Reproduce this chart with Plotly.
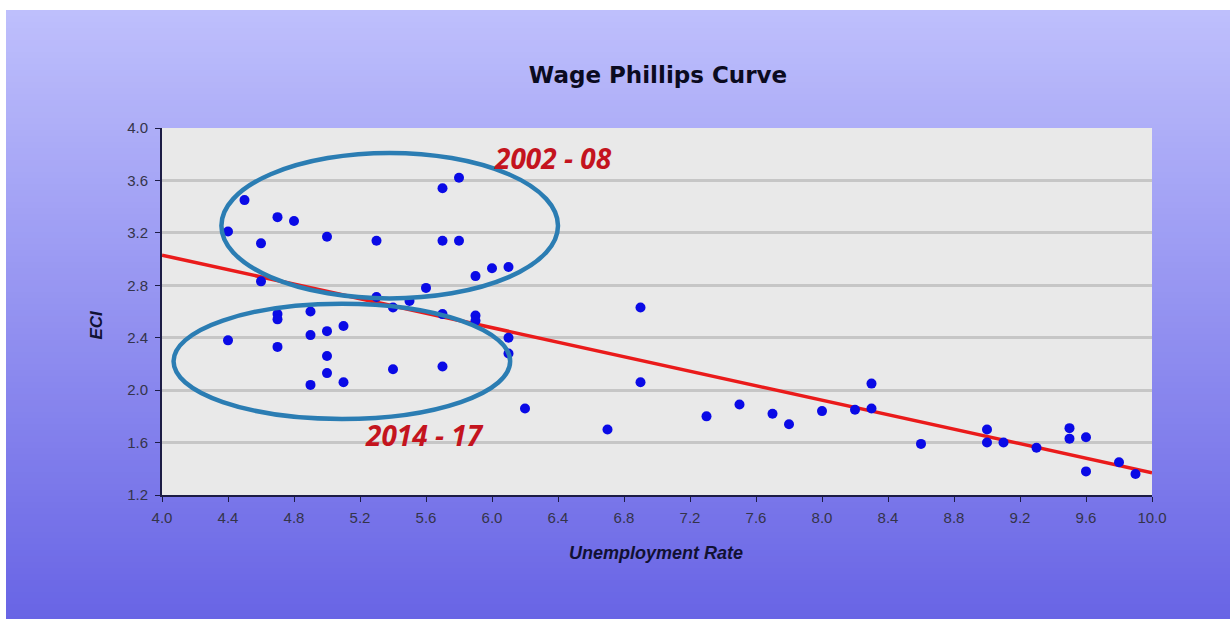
import plotly.graph_objects as go

# Unemployment rate (%) and ECI wage growth (%), one point per observation
unemployment = [4.4, 4.5, 4.6, 4.7, 4.8, 5.0, 5.3, 5.7, 5.8, 5.7, 5.8, 5.9, 6.0, 6.1,
                4.6, 5.6, 5.5, 5.3, 5.4, 4.7, 4.7, 4.9, 4.9, 5.0, 5.1, 4.4, 4.7, 5.0,
                5.0, 4.9, 5.1, 5.4, 5.7, 5.7, 5.9, 5.9, 6.1, 6.1, 6.2, 6.9, 6.9, 6.7,
                7.3, 7.5, 7.7, 7.8, 8.0, 8.2, 8.3, 8.3, 8.6, 9.0, 9.0, 9.1, 9.3, 9.5,
                9.5, 9.6, 9.6, 9.8, 9.9]
eci = [3.21, 3.45, 3.12, 3.32, 3.29, 3.17, 3.14, 3.54, 3.62, 3.14, 3.14, 2.87, 2.93, 2.94,
       2.83, 2.78, 2.68, 2.71, 2.63, 2.58, 2.54, 2.60, 2.42, 2.45, 2.49, 2.38, 2.33, 2.26,
       2.13, 2.04, 2.06, 2.16, 2.18, 2.58, 2.57, 2.53, 2.40, 2.28, 1.86, 2.63, 2.06, 1.70,
       1.80, 1.89, 1.82, 1.74, 1.84, 1.85, 2.05, 1.86, 1.59, 1.70, 1.60, 1.60, 1.56, 1.71,
       1.63, 1.64, 1.38, 1.45, 1.36]

# Fitted linear trend, evaluated at the ends of the x range
fit_x = [4.0, 10.0]
fit_y = [3.03, 1.37]

# Highlighted periods: label and bounding box (x0, x1, y0, y1) of the circled cluster
periods = ["2002 - 08", "2014 - 17"]
period_label_x = [6.37, 5.59]
period_label_y = [3.77, 1.66]
period_boxes = [(4.36, 6.40, 2.70, 3.81), (4.07, 6.11, 1.78, 2.66)]

x_ticks = [4.0 + 0.4 * i for i in range(16)]
y_ticks = [1.2 + 0.4 * i for i in range(8)]

W, H = 1230, 619
ML, MR, MT, MB = 162, 78, 128, 124
PW, PH = W - ML - MR, H - MT - MB


def px_to_paper_x(px):
    return (px - ML) / PW


def px_to_paper_y(py):
    return (H - MB - py) / PH


shapes = []
# vertical gradient behind the whole chart (white strip along top and left edge)
top_rgb = (190, 191, 252)
bot_rgb = (104, 100, 229)
y_start, y_end, step = 10, H, 6
n = (y_end - y_start) // step + 1
for i in range(n):
    t = i / (n - 1)
    c = tuple(round(a + (b - a) * t) for a, b in zip(top_rgb, bot_rgb))
    y0 = y_start + i * step
    y1 = min(y0 + step + 1, H + 2)
    shapes.append(dict(type="rect", xref="paper", yref="paper", layer="below",
                       x0=px_to_paper_x(6), x1=px_to_paper_x(W + 2),
                       y0=px_to_paper_y(y1), y1=px_to_paper_y(y0),
                       line=dict(width=0), fillcolor="rgb(%d,%d,%d)" % c))
# plot area background
shapes.append(dict(type="rect", xref="paper", yref="paper", layer="below",
                   x0=0, x1=1, y0=0, y1=1, line=dict(width=0), fillcolor="#e9e9e9"))
# ellipses around the two periods
for (x0, x1, y0, y1) in period_boxes:
    shapes.append(dict(type="circle", xref="x", yref="y", x0=x0, x1=x1, y0=y0, y1=y1,
                       line=dict(color="#2b7db3", width=4.5)))

fig = go.Figure()
fig.add_trace(go.Scatter(x=fit_x, y=fit_y, mode="lines",
                         line=dict(color="#ea1b1b", width=3.5), hoverinfo="skip"))
fig.add_trace(go.Scatter(x=unemployment, y=eci, mode="markers",
                         marker=dict(color="#0a0ae6", size=10, symbol="circle",
                                     line=dict(width=0))))

annotations = []
for lab, lx, ly in zip(periods, period_label_x, period_label_y):
    annotations.append(dict(x=lx, y=ly, xref="x", yref="y", text="<b><i>%s</i></b>" % lab,
                            showarrow=False, font=dict(family="Open Sans", size=28, color="#c4141e")))
annotations.append(dict(x=px_to_paper_x(84), y=px_to_paper_y(325), xref="paper", yref="paper",
                        text="<b><i>ECI</i></b>", textangle=-90, showarrow=False,
                        font=dict(family="Liberation Sans", size=17, color="#111133")))
annotations.append(dict(x=px_to_paper_x(656), y=px_to_paper_y(565), xref="paper", yref="paper",
                        text="<b><i>Unemployment Rate</i></b>", showarrow=False,
                        font=dict(family="Liberation Sans", size=18, color="#111133")))

tick_font = dict(family="Liberation Sans", size=15, color="#34344a")

fig.update_layout(
    width=W, height=H,
    margin=dict(l=ML, r=MR, t=MT, b=MB),
    paper_bgcolor="white",
    plot_bgcolor="rgba(0,0,0,0)",
    showlegend=False,
    title=dict(text="<b>Wage Phillips Curve</b>", x=658 / W,
               xanchor="center", y=1 - 75 / H, yanchor="middle",
               font=dict(family="DejaVu Sans", size=23, color="#0b0b20")),
    shapes=shapes,
    annotations=annotations,
    xaxis=dict(range=[4.0, 10.0], tickvals=x_ticks, ticktext=["%.1f" % v for v in x_ticks],
               showgrid=False, zeroline=False, showline=True, linecolor="#1c1c44", linewidth=2,
               ticks="outside", ticklen=5, tickcolor="#1c1c44", tickwidth=1,
               ticklabelstandoff=3, tickfont=tick_font),
    yaxis=dict(range=[1.2, 4.0], tickvals=y_ticks, ticktext=["%.1f" % v for v in y_ticks],
               showgrid=True, gridcolor="#c6c6c6", gridwidth=3, zeroline=False,
               showline=True, linecolor="#1c1c44", linewidth=2,
               ticks="outside", ticklen=5, tickcolor="#1c1c44", tickwidth=1,
               ticklabelstandoff=4, tickfont=tick_font),
)

fig.write_html("out.html")
